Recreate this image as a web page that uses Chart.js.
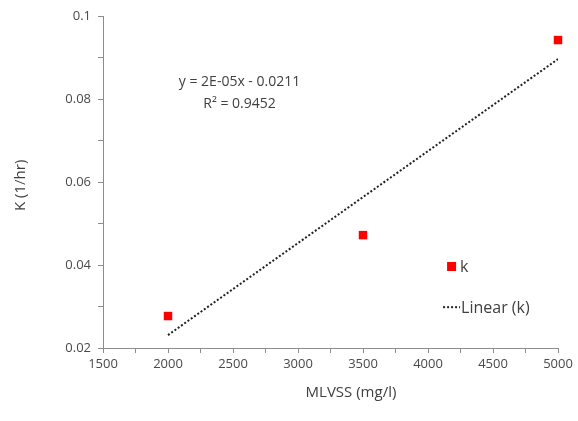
<!DOCTYPE html>
<html>
<head>
<meta charset="utf-8">
<script src="https://cdn.jsdelivr.net/npm/chart.js@4"></script>
<style>
  html, body { margin: 0; padding: 0; background: #fff; }
  #wrap { width: 578px; height: 421px; }
</style>
</head>
<body>
<div id="wrap"><canvas id="grafico"></canvas></div>
<script>
// Dados
const mlvss = [2000, 3500, 5000];
const kValores = [0.0277, 0.0472, 0.0942];
const xTicks = [1500, 2000, 2500, 3000, 3500, 4000, 4500, 5000];
const yTicks = [0.02, 0.04, 0.06, 0.08, 0.1];
const equacao = ['y = 2E-05x - 0.0211', 'R\u00b2 = 0.9452'];

// Linha de tendência (mínimos quadrados) calculada dos pontos
const n = mlvss.length;
const mx = mlvss.reduce((a, b) => a + b, 0) / n;
const my = kValores.reduce((a, b) => a + b, 0) / n;
let sxy = 0, sxx = 0;
mlvss.forEach((x, i) => { sxy += (x - mx) * (kValores[i] - my); sxx += (x - mx) * (x - mx); });
const slope = sxy / sxx;
const intercept = my - slope * mx;
const xMin = Math.min(...mlvss), xMax = Math.max(...mlvss);

const corEixo = '#8c8c8c';
const corTexto = '#4a4a4a';
const fonte = '"Open Sans", "Liberation Sans", sans-serif';

// Equação, legenda e títulos dos eixos
const extras = {
  id: 'extras',
  afterDatasetsDraw(chart) {
    const ctx = chart.ctx;
    const a = chart.chartArea;
    const w = a.right - a.left, h = a.bottom - a.top;
    ctx.save();
    ctx.fillStyle = '#404040';
    ctx.font = '14px ' + fonte;
    ctx.textAlign = 'center';
    ctx.textBaseline = 'middle';
    const ex = a.left + w * 0.30;
    ctx.fillText(equacao[0], ex, a.top + h * 0.199);
    ctx.fillText(equacao[1], ex, a.top + h * 0.265);

    // legenda
    const lx = a.left + w * 0.765;
    const ly1 = a.top + h * 0.753;
    const ly2 = a.top + h * 0.877;
    ctx.fillStyle = '#ff0000';
    ctx.fillRect(lx - 4, ly1 - 4, 9, 9);
    ctx.fillStyle = '#404040';
    ctx.font = '16px ' + fonte;
    ctx.textAlign = 'left';
    ctx.fillText('k', lx + 9, ly1 + 1);
    ctx.strokeStyle = '#222';
    ctx.lineWidth = 2;
    ctx.setLineDash([2, 2]);
    ctx.beginPath();
    ctx.moveTo(lx - 8, ly2);
    ctx.lineTo(lx + 9, ly2);
    ctx.stroke();
    ctx.setLineDash([]);
    ctx.fillText('Linear (k)', lx + 10, ly2 + 1);

    // títulos dos eixos
    ctx.font = '15px ' + fonte;
    ctx.textAlign = 'center';
    ctx.fillText('MLVSS (mg/l)', a.left + w * 0.545, a.bottom + 45);
    ctx.translate(21, a.top + h * 0.51);
    ctx.rotate(-Math.PI / 2);
    ctx.fillText('K (1/hr)', 0, 0);
    ctx.restore();
  }
};

const data = {
  datasets: [{
    // Pontos k - vermelho
    type: 'scatter',
    label: 'k',
    data: mlvss.map((x, i) => ({ x: x, y: kValores[i] })),
    backgroundColor: '#ff0000',
    borderWidth: 0,
    pointStyle: 'rect',
    pointRadius: 6,
    clip: false,
    order: 1
  },
  {
    // Linha de tendência pontilhada
    type: 'line',
    label: 'Linear (k)',
    data: [{ x: xMin, y: slope * xMin + intercept }, { x: xMax, y: slope * xMax + intercept }],
    borderColor: '#222',
    borderWidth: 2,
    borderDash: [2, 2],
    pointRadius: 0,
    fill: false,
    order: 2
  }]
};

const config = {
  type: 'scatter',
  data: data,
  options: {
    responsive: true,
    maintainAspectRatio: false,
    animation: false,
    layout: { padding: { left: 0, top: 16, right: 20, bottom: 0 } },
    plugins: { legend: { display: false }, tooltip: { enabled: false } },
    scales: {
      x: {
        type: 'linear',
        min: xTicks[0],
        max: xTicks[xTicks.length - 1],
        afterFit: s => { s.height = 73; },
        afterBuildTicks: s => {
          const t = [];
          for (let v = xTicks[0]; v <= xTicks[xTicks.length - 1]; v += 250) t.push({ value: v });
          s.ticks = t;
        },
        ticks: {
          color: corTexto,
          font: { family: fonte, size: 13 },
          padding: 3,
          maxRotation: 0,
          autoSkip: false,
          callback: v => xTicks.includes(v) ? String(v) : ''
        },
        grid: { drawOnChartArea: false, color: corEixo, tickLength: 5, tickColor: corEixo },
        border: { color: corEixo, width: 1 }
      },
      y: {
        type: 'linear',
        min: yTicks[0],
        max: yTicks[yTicks.length - 1],
        afterFit: s => { s.width = 103; },
        afterBuildTicks: s => {
          const t = [];
          for (let i = 0; i <= 8; i++) t.push({ value: Math.round((0.02 + i * 0.01) * 100) / 100 });
          s.ticks = t;
        },
        ticks: {
          color: corTexto,
          font: { family: fonte, size: 13 },
          padding: 7,
          autoSkip: false,
          callback: v => yTicks.some(t => Math.abs(t - v) < 1e-9) ? String(v) : ''
        },
        grid: { drawOnChartArea: false, color: corEixo, tickLength: 5, tickColor: corEixo },
        border: { color: corEixo, width: 1 }
      }
    }
  },
  plugins: [extras]
};

const grafico = new Chart(document.getElementById('grafico'), config);
</script>
</body>
</html>
